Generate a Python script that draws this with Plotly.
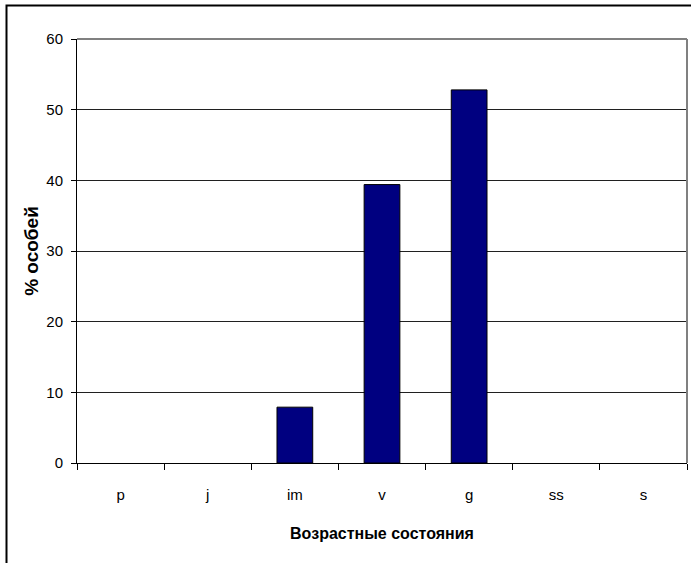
import plotly.graph_objects as go

# Age states of the population and share of individuals (%)
states = ["p", "j", "im", "v", "g", "ss", "s"]
share = [0, 0, 7.9, 39.4, 52.8, 0, 0]

y_ticks = [0, 10, 20, 30, 40, 50, 60]

W, H = 691, 563
L, R, T, B = 77, 4, 39, 100

font_fam = "Liberation Sans, Arial, sans-serif"

# empty categories get no outline so nothing is drawn on the baseline
outline = [1 if v > 0 else 0 for v in share]

fig = go.Figure(
    go.Bar(
        x=states,
        y=share,
        width=0.41,
        marker=dict(color="#000080", line=dict(color="#000000", width=outline)),
        hoverinfo="x+y",
    )
)

pw = W - L - R
ph = H - T - B

fig.update_layout(
    width=W,
    height=H,
    margin=dict(l=L, r=R, t=T, b=B, pad=0),
    paper_bgcolor="white",
    plot_bgcolor="white",
    showlegend=False,
    font=dict(family=font_fam, size=15, color="black"),
    xaxis=dict(
        type="category",
        range=[-0.5, 6.5],
        tickson="boundaries",
        ticks="outside",
        ticklen=6,
        tickcolor="black",
        showline=True,
        linecolor="black",
        linewidth=1,
        showgrid=False,
        zeroline=False,
        ticklabelstandoff=18,
        tickfont=dict(family=font_fam, size=15),
        title=dict(
            text="<b>Возрастные состояния</b>",
            font=dict(family=font_fam, size=16),
            standoff=25,
        ),
    ),
    yaxis=dict(
        range=[0, 60],
        tickvals=y_ticks,
        ticks="outside",
        ticklen=5,
        tickcolor="black",
        showline=True,
        linecolor="black",
        linewidth=1,
        showgrid=True,
        gridcolor="#202020",
        gridwidth=1,
        zeroline=False,
        ticklabelstandoff=5,
        tickfont=dict(family=font_fam, size=15),
        title=dict(
            text="<b>% особей</b>",
            font=dict(family=font_fam, size=19),
            standoff=2,
        ),
    ),
    shapes=[
        # gray frame on the top and right of the plot area
        dict(type="line", xref="paper", yref="paper", x0=0, x1=1, y0=1, y1=1,
             line=dict(color="#808080", width=2), layer="above"),
        dict(type="line", xref="paper", yref="paper", x0=1, x1=1, y0=0, y1=1,
             line=dict(color="#808080", width=2), layer="above"),
        # outer chart border
        dict(type="rect", xref="paper", yref="paper",
             x0=(6.5 - L) / pw, x1=(W + 20 - L) / pw,
             y0=-(H + 20 - T - ph) / ph, y1=(H - B - 5.5) / ph,
             line=dict(color="black", width=2), layer="above"),
    ],
)

fig.write_html("out.html")
